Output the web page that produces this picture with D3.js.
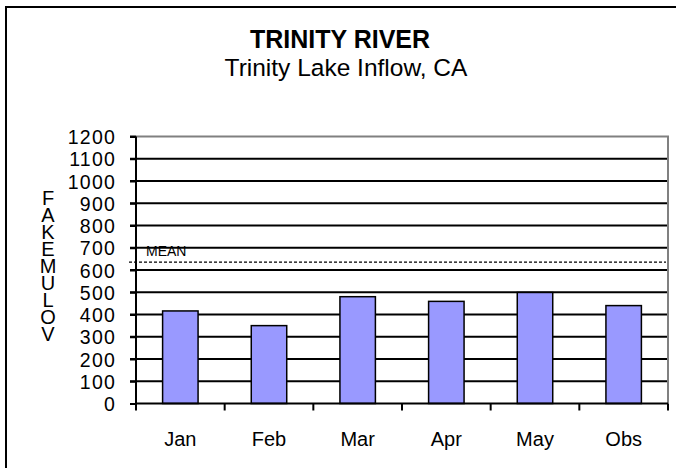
<!DOCTYPE html>
<html><head><meta charset="utf-8">
<script src="https://cdn.jsdelivr.net/npm/d3@7"></script>
<style>html,body{margin:0;padding:0;background:#fff;}svg{display:block;}</style>
</head><body>
<svg id="c" width="676" height="468"></svg>
<script>
const categories = ["Jan","Feb","Mar","Apr","May","Obs"];
const values = [416, 350, 480, 459, 499, 440];
const meanValue = 635;
const yTicks = [0,100,200,300,400,500,600,700,800,900,1000,1100,1200];
const title = "TRINITY RIVER";
const subtitle = "Trinity Lake Inflow, CA";
const yLabel = "FAKEMULOV";

(function(){
const svg = d3.select("#c");
const font = "Arial, 'Liberation Sans', sans-serif";
const pLeft = 136, pRight = 668, pTop = 136.5, pBottom = 403.5;

// outer frame
svg.append("rect").attr("x",6).attr("y",7).attr("width",700).attr("height",500)
  .attr("fill","none").attr("stroke","#000").attr("stroke-width",2);

const x = d3.scaleBand().domain(categories).range([pLeft,pRight]).paddingInner(0.6).paddingOuter(0.3);
const y = d3.scaleLinear().domain([0,1200]).range([pBottom,pTop]);

// gridlines
svg.append("g").selectAll("line").data(yTicks.filter(t=>t>0 && t<1200)).join("line")
  .attr("x1",pLeft-6).attr("x2",pRight).attr("y1",d=>y(d)).attr("y2",d=>y(d))
  .attr("stroke","#000").attr("stroke-width",2);
// plot border top/right (gray)
svg.append("path").attr("d",`M${pLeft},${y(1200)}H${pRight}V${pBottom}`)
  .attr("fill","none").attr("stroke","#808080").attr("stroke-width",2);
svg.append("line").attr("x1",pLeft-6).attr("x2",pLeft).attr("y1",y(1200)).attr("y2",y(1200))
  .attr("stroke","#000").attr("stroke-width",2);

// y axis
const yAxis = d3.axisLeft(y).tickValues(yTicks).tickSize(6).tickPadding(14).tickFormat(d3.format("d"));
const gy = svg.append("g").attr("transform",`translate(${pLeft},0)`).call(yAxis);
gy.select(".domain").remove();
gy.selectAll(".tick line").attr("stroke","#000").attr("stroke-width",2);
gy.selectAll("text").attr("font-family",font).attr("font-size",19.5).attr("letter-spacing",1.2)
  .attr("fill","#000").attr("dy","0.36em");

// bars
svg.append("g").selectAll("rect").data(values).join("rect")
  .attr("x",(d,i)=>x(categories[i])).attr("width",x.bandwidth())
  .attr("y",d=>y(d)).attr("height",d=>y(0)-y(d))
  .attr("fill","#9999FF").attr("stroke","#000").attr("stroke-width",1.5);

// axis lines
svg.append("line").attr("x1",pLeft).attr("x2",pLeft).attr("y1",y(1200)).attr("y2",pBottom+6)
  .attr("stroke","#000").attr("stroke-width",2);
const xb = d3.scaleBand().domain(categories).range([pLeft,pRight]);
const xAxis = d3.axisBottom(xb).tickSize(0).tickPadding(28);
const gx = svg.append("g").attr("transform",`translate(0,${pBottom})`).call(xAxis);
gx.select(".domain").attr("stroke","#000").attr("stroke-width",2).attr("d",`M${pLeft},0H${pRight}`);
gx.selectAll("text").attr("font-family",font).attr("font-size",20).attr("fill","#000");
// category boundary ticks
const bounds = categories.map(c=>xb(c)).concat([pRight]);
svg.append("g").selectAll("line").data(bounds).join("line")
  .attr("x1",d=>d).attr("x2",d=>d).attr("y1",pBottom).attr("y2",pBottom+7)
  .attr("stroke","#000").attr("stroke-width",2);

// mean line
svg.append("line").attr("x1",pLeft-7).attr("x2",pRight-2).attr("y1",y(meanValue)).attr("y2",y(meanValue))
  .attr("stroke","#000").attr("stroke-width",1.2).attr("stroke-dasharray","3,2");
svg.append("text").attr("x",pLeft+10).attr("y",256).text("MEAN")
  .attr("font-family",font).attr("font-size",14).attr("fill","#000");

// titles
svg.append("text").attr("x",340).attr("y",48).attr("text-anchor","middle").text(title)
  .attr("font-family",font).attr("font-size",25).attr("font-weight","bold");
svg.append("text").attr("x",346).attr("y",76).attr("text-anchor","middle").text(subtitle)
  .attr("font-family",font).attr("font-size",24.5);

// y label: stacked upright letters as one vertical text
svg.append("text").attr("x",48).attr("y",187).text(yLabel)
  .style("writing-mode","vertical-rl").style("text-orientation","upright")
  .attr("letter-spacing",-5)
  .attr("font-family",font).attr("font-size",20);
})();
</script>
</body></html>
